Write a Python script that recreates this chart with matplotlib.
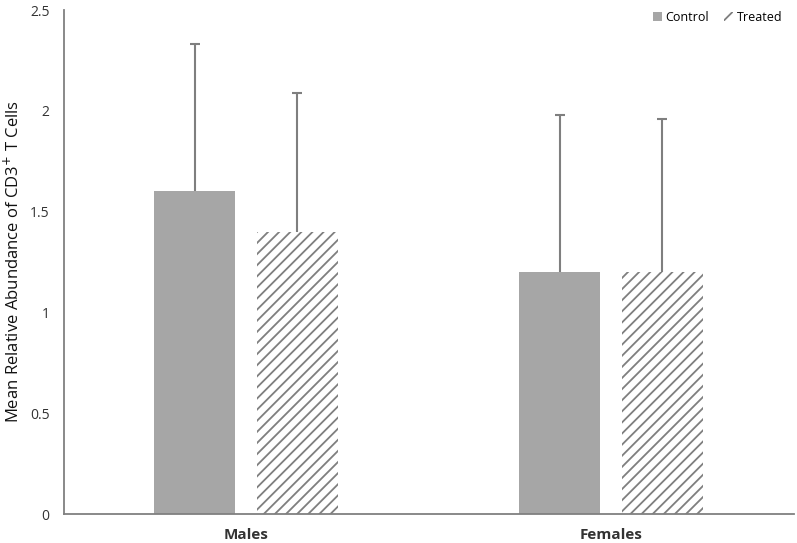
import matplotlib.pyplot as plt
import numpy as np
from matplotlib.patches import Patch

groups = ['Males', 'Females']
control = [1.6, 1.2]
treated = [1.4, 1.2]
control_err = [0.73, 0.78]
treated_err = [0.69, 0.76]

plt.rcParams['font.family'] = ['Open Sans', 'DejaVu Sans']
plt.rcParams['hatch.linewidth'] = 1.3

fig = plt.figure(figsize=(7.97, 5.43), dpi=100)
ax = fig.add_axes([63.5/797, 29/543, 730/797, 504/543])

x = np.arange(len(groups))
w = 0.222
off = 0.141
gray = '#a6a6a6'
ecol = '#7f7f7f'

ax.bar(x - off, control, w, color=gray, linewidth=0)
ax.bar(x + off, treated, w, color='white', edgecolor=ecol, hatch='///', linewidth=0)

# plus-only error bars, cap only at the top
for xs, vals, errs in [(x - off, control, control_err), (x + off, treated, treated_err)]:
    tops = np.array(vals) + np.array(errs)
    ax.vlines(xs, vals, tops, color=ecol, linewidth=1.5)
    ax.plot(xs, tops, linestyle='none', marker='_', markersize=7, markeredgewidth=1.5, color=ecol)

ax.set_xlim(-0.5, 1.5)
ax.set_ylim(0, 2.5)
ax.set_yticks([0, 0.5, 1, 1.5, 2, 2.5])
ax.set_yticklabels(['0', '0.5', '1', '1.5', '2', '2.5'])
ax.set_xticks(x)
ax.set_xticklabels(groups, fontweight='bold', fontsize=11)
ax.tick_params(axis='both', length=0, colors='#333333')
ax.tick_params(axis='y', labelsize=10, pad=10)
ax.tick_params(axis='x', pad=10)
for s in ['top', 'right']:
    ax.spines[s].set_visible(False)
for s in ['left', 'bottom']:
    ax.spines[s].set_color('#808080')
    ax.spines[s].set_linewidth(1.3)

ax.set_ylabel('Mean Relative Abundance of CD3$^{+}$ T Cells', fontsize=12, color='#111111')
ax.yaxis.label.set_va('center')
ax.yaxis.set_label_coords(-0.069, 0.5)

handles = [Patch(facecolor=gray, linewidth=0, label='Control'),
           Patch(facecolor='white', edgecolor=ecol, hatch='///', linewidth=0, label='Treated')]
ax.legend(handles=handles, loc='upper right', ncol=2, frameon=False, fontsize=9,
          handlelength=0.7, handleheight=0.7, handletextpad=0.3, columnspacing=1.2,
          bbox_to_anchor=(1.0, 1.02))

fig.savefig('out.png', dpi=100)
